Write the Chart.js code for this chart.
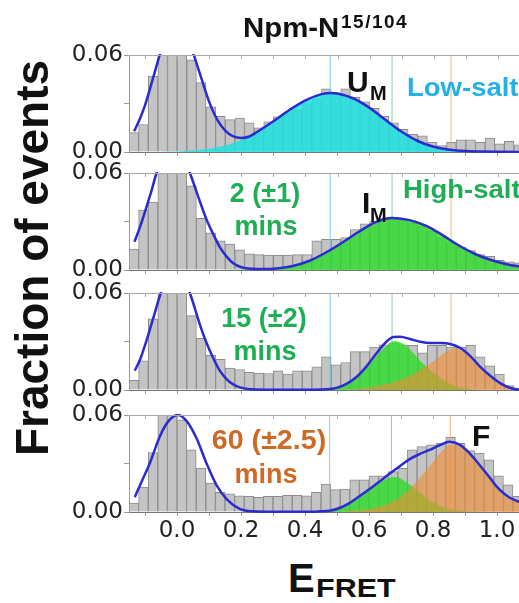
<!DOCTYPE html>
<html>
<head>
<meta charset="utf-8">
<script src="https://cdn.jsdelivr.net/npm/chart.js@4.4.1/dist/chart.umd.min.js"></script>
<style>
  html, body { margin: 0; padding: 0; background: #fff; }
  body { width: 519px; height: 603px; overflow: hidden; position: relative; }
  canvas { position: absolute; left: 0; }
  .t { position: absolute; font-family: "Liberation Sans", Arial, sans-serif; font-weight: bold;
       line-height: 1; white-space: nowrap; color: #111; transform-origin: 0 0; }
  .c { text-align: center; width: 140px; transform-origin: 50% 0; }
  .grn { color: #1fae55; }
  .org { color: #cf6a26; }
</style>
</head>
<body>
<canvas id="p1" width="530" height="131" style="top:39px"></canvas>
<canvas id="p2" width="530" height="131" style="top:157px"></canvas>
<canvas id="p3" width="530" height="131" style="top:277px"></canvas>
<canvas id="p4" width="530" height="155" style="top:399px"></canvas>

<!-- titres et annotations -->
<div class="t" style="left:243px;top:14px;font-size:28px;transform:scaleX(1.05)">Npm-N</div>
<div class="t" style="left:341px;top:12px;font-size:19px;letter-spacing:1.5px">15/104</div>

<div class="t" style="left:347px;top:67px;font-size:30px">U</div>
<div class="t" style="left:370px;top:83px;font-size:20px">M</div>
<div class="t" style="left:407px;top:75px;font-size:25px;color:#22b0e6;transform:scaleX(1.1)">Low-salt</div>

<div class="t c grn" style="left:195px;top:180px;font-size:27px">2 (±1)</div>
<div class="t c grn" style="left:196px;top:213px;font-size:27px">mins</div>
<div class="t" style="left:362px;top:188px;font-size:30px">I</div>
<div class="t" style="left:370px;top:205px;font-size:20px">M</div>
<div class="t grn" style="left:403px;top:177px;font-size:25px;transform:scaleX(1.1)">High-salt</div>

<div class="t c grn" style="left:194px;top:305px;font-size:27px">15 (±2)</div>
<div class="t c grn" style="left:195px;top:338px;font-size:27px">mins</div>

<div class="t c org" style="left:199px;top:427px;font-size:27px;transform:scaleX(1.06)">60 (±2.5)</div>
<div class="t c org" style="left:196px;top:461px;font-size:27px">mins</div>
<div class="t" style="left:472px;top:421px;font-size:30px">F</div>

<div class="t" style="left:288px;top:558px;font-size:40px">E</div>
<div class="t" style="left:316px;top:576px;font-size:25px;transform:scaleX(1.22)">FRET</div>

<div class="t" style="left:-168px;top:235px;width:400px;height:46px;font-size:46px;text-align:center;transform-origin:50% 50%;transform:rotate(-90deg)">Fraction of events</div>

<script>
// centres des classes de l'histogramme (E_FRET)
const binCenters = [-0.135, -0.105, -0.075, -0.045, -0.015, 0.015, 0.045, 0.075, 0.105, 0.135,
  0.165, 0.195, 0.225, 0.255, 0.285, 0.315, 0.345, 0.375, 0.405, 0.435,
  0.465, 0.495, 0.525, 0.555, 0.585, 0.615, 0.645, 0.675, 0.705, 0.735,
  0.765, 0.795, 0.825, 0.855, 0.885, 0.915, 0.945, 0.975, 1.005, 1.035,
  1.065, 1.095];

// fractions d'evenements par panneau
const lowSaltBars = [0.012, 0.017, 0.047, 0.072, 0.078, 0.070, 0.057, 0.043, 0.028, 0.022,
  0.020, 0.021, 0.018, 0.015, 0.0186, 0.0217, 0.024, 0.026, 0.030, 0.033,
  0.039, 0.036, 0.039, 0.034, 0.031, 0.027, 0.022, 0.018, 0.014, 0.011,
  0.010, 0.006, 0.004, 0.006, 0.0076, 0.0076, 0.006, 0.0086, 0.005, 0.0066,
  0.0045, 0.004];
const min2Bars = [0.013, 0.037, 0.042, 0.070, 0.078, 0.072, 0.052, 0.032, 0.023, 0.018,
  0.016, 0.0125, 0.010, 0.0095, 0.0092, 0.009, 0.0092, 0.0095, 0.0095, 0.018,
  0.019, 0.019, 0.020, 0.025, 0.0285, 0.030, 0.031, 0.0318, 0.031, 0.029,
  0.027, 0.024, 0.020, 0.017, 0.014, 0.012, 0.0095, 0.0085, 0.006, 0.005,
  0.0045, 0.004];
const min15Bars = [0.006, 0.018, 0.044, 0.070, 0.075, 0.066, 0.046, 0.032, 0.0215, 0.019,
  0.0135, 0.0127, 0.011, 0.0104, 0.0102, 0.0119, 0.0098, 0.0119, 0.0119, 0.0143,
  0.0205, 0.0156, 0.017, 0.0237, 0.0237, 0.0266, 0.028, 0.029, 0.028, 0.0276,
  0.023, 0.0276, 0.0276, 0.0266, 0.0266, 0.0278, 0.0205, 0.015, 0.0098, 0.0027,
  0.0012, 0.001];
const min60Bars = [0.0055, 0.0154, 0.0368, 0.062, 0.063, 0.057, 0.0384, 0.0271, 0.0179, 0.0121,
  0.0113, 0.010, 0.0097, 0.009, 0.0097, 0.0097, 0.0103, 0.0103, 0.010, 0.0121,
  0.0173, 0.0138, 0.0142, 0.0199, 0.0199, 0.0224, 0.0224, 0.025, 0.027, 0.0384,
  0.0405, 0.0415, 0.0425, 0.0462, 0.0425, 0.038, 0.0364, 0.0322, 0.0224, 0.0168,
  0.0097, 0.007];

// courbes d'ajustement [E, fraction]
const lowSaltFit = [[-0.134, 0.0128], [-0.115, 0.021], [-0.1, 0.029], [-0.075, 0.0457], [-0.05, 0.0628],
  [-0.025, 0.0757], [0.0, 0.080], [0.025, 0.0745], [0.05, 0.0612], [0.075, 0.046], [0.1, 0.031],
  [0.125, 0.020], [0.15, 0.0132], [0.175, 0.0096], [0.2, 0.0087], [0.225, 0.0096], [0.25, 0.0125],
  [0.3, 0.019], [0.35, 0.026], [0.4, 0.032], [0.45, 0.0358], [0.48, 0.0365], [0.5, 0.0362],
  [0.55, 0.0331], [0.6, 0.0273], [0.65, 0.0198], [0.7, 0.0125], [0.75, 0.0068], [0.8, 0.0032],
  [0.85, 0.0014], [0.9, 0.0006], [0.95, 0.0003], [1.0, 0.0001], [1.1, 0.0]];
const lowSaltUM = [[-0.05, 0.0001], [0.0, 0.0003], [0.05, 0.0009], [0.1, 0.002], [0.15, 0.004],
  [0.2, 0.0074], [0.25, 0.0125], [0.3, 0.019], [0.35, 0.026], [0.4, 0.032], [0.45, 0.0358],
  [0.48, 0.0365], [0.5, 0.0362], [0.55, 0.0331], [0.6, 0.0273], [0.65, 0.0198], [0.7, 0.0125],
  [0.75, 0.0068], [0.8, 0.0032], [0.85, 0.0014], [0.9, 0.0006], [0.95, 0.0003], [1.0, 0.0001], [1.1, 0.0]];

const min2Fit = [[-0.133, 0.0175], [-0.115, 0.027], [-0.096, 0.0386], [-0.08, 0.049], [-0.064, 0.060],
  [-0.04, 0.071], [-0.012, 0.079], [0.015, 0.073], [0.04, 0.060], [0.07, 0.043], [0.09, 0.032],
  [0.112, 0.0224], [0.135, 0.0135], [0.155, 0.0081], [0.175, 0.0042], [0.2, 0.0017], [0.25, 0.0006],
  [0.3, 0.0008], [0.357, 0.0023], [0.409, 0.0054], [0.461, 0.0105], [0.513, 0.0167], [0.565, 0.0235],
  [0.617, 0.0295], [0.669, 0.0322], [0.721, 0.031], [0.773, 0.0276], [0.825, 0.0219], [0.877, 0.0153],
  [0.929, 0.0099], [0.981, 0.006], [1.034, 0.0033], [1.1, 0.0015]];
const min2IM = [[0.15, 0.0001], [0.2, 0.0003], [0.25, 0.0006], [0.3, 0.0008], [0.357, 0.0023],
  [0.409, 0.0054], [0.461, 0.0105], [0.513, 0.0167], [0.565, 0.0235], [0.617, 0.0295], [0.669, 0.0322],
  [0.721, 0.031], [0.773, 0.0276], [0.825, 0.0219], [0.877, 0.0153], [0.929, 0.0099], [0.981, 0.006],
  [1.034, 0.0033], [1.1, 0.0015]];

const min15Fit = [[-0.132, 0.012], [-0.115, 0.019], [-0.096, 0.0303], [-0.075, 0.044], [-0.051, 0.060],
  [-0.025, 0.073], [-0.005, 0.0766], [0.015, 0.073], [0.04, 0.060], [0.071, 0.0405], [0.09, 0.030],
  [0.112, 0.020], [0.133, 0.012], [0.154, 0.0068], [0.175, 0.0035], [0.196, 0.0016], [0.23, 0.0004],
  [0.3, 0.0001], [0.4, 0.0001], [0.466, 0.0004], [0.497, 0.0013], [0.528, 0.0038], [0.56, 0.0082],
  [0.591, 0.0148], [0.622, 0.0228], [0.653, 0.030], [0.674, 0.0328], [0.695, 0.033], [0.726, 0.0315],
  [0.758, 0.0298], [0.789, 0.029], [0.82, 0.029], [0.851, 0.0285], [0.883, 0.026], [0.914, 0.021],
  [0.945, 0.0143], [0.976, 0.0088], [1.008, 0.0041], [1.039, 0.0012], [1.067, 0.0002], [1.1, 0.0]];
const min15IM = [[0.44, 0.0], [0.497, 0.001], [0.528, 0.0035], [0.56, 0.0075], [0.591, 0.0138],
  [0.622, 0.021], [0.653, 0.0275], [0.679, 0.0303], [0.70, 0.029], [0.726, 0.025], [0.758, 0.018],
  [0.789, 0.0125], [0.82, 0.0075], [0.851, 0.0038], [0.883, 0.0015], [0.914, 0.0005], [0.95, 0.0]];
const min15F = [[0.5, 0.0], [0.55, 0.0004], [0.6, 0.0015], [0.65, 0.0035], [0.7, 0.0065], [0.75, 0.0115],
  [0.8, 0.018], [0.83, 0.0225], [0.86, 0.0255], [0.885, 0.025], [0.914, 0.0205], [0.945, 0.0143],
  [0.976, 0.0088], [1.008, 0.0041], [1.039, 0.0012], [1.08, 0.0002]];

const min60Fit = [[-0.132, 0.0092], [-0.11, 0.019], [-0.085, 0.0302], [-0.054, 0.0466], [-0.028, 0.0559],
  [0.003, 0.060], [0.029, 0.0565], [0.061, 0.0456], [0.092, 0.0302], [0.123, 0.0168], [0.155, 0.008],
  [0.196, 0.002], [0.237, 0.0004], [0.3, 0.0001], [0.4, 0.0001], [0.445, 0.0004], [0.477, 0.0008],
  [0.508, 0.0025], [0.539, 0.0055], [0.570, 0.0097], [0.602, 0.0142], [0.633, 0.0189], [0.664, 0.0236],
  [0.695, 0.0281], [0.727, 0.0327], [0.758, 0.0358], [0.789, 0.0384], [0.82, 0.0412], [0.851, 0.0434],
  [0.883, 0.0417], [0.914, 0.0364], [0.945, 0.0292], [0.976, 0.0216], [1.008, 0.0138], [1.039, 0.009],
  [1.067, 0.0065], [1.1, 0.004]];
const min60IM = [[0.42, 0.0], [0.45, 0.0003], [0.5, 0.0018], [0.54, 0.005], [0.57, 0.0088], [0.602, 0.0135],
  [0.633, 0.018], [0.66, 0.0208], [0.68, 0.0216], [0.705, 0.020], [0.737, 0.0155], [0.768, 0.0105],
  [0.8, 0.006], [0.84, 0.0025], [0.883, 0.0008], [0.93, 0.0001], [0.96, 0.0]];
const min60F = [[0.5, 0.0], [0.55, 0.0008], [0.6, 0.0018], [0.65, 0.0045], [0.7, 0.0095], [0.75, 0.019],
  [0.8, 0.031], [0.83, 0.038], [0.855, 0.0418], [0.88, 0.041], [0.914, 0.0362], [0.945, 0.0292],
  [0.976, 0.0216], [1.008, 0.0138], [1.039, 0.0085], [1.067, 0.006], [1.1, 0.0035]];

// positions des etats U_M, I_M, F
const stateLines = [0.477, 0.67, 0.854];
const xTickLabels = ['0.0', '0.2', '0.4', '0.6', '0.8', '1.0'];
const yTickLabels = ['0.00', '0.06'];

const cyanFill = 'rgba(30, 226, 226, 0.85)';
const greenFill = 'rgba(40, 222, 40, 0.78)';
const orangeFill = 'rgba(240, 140, 50, 0.62)';
const stateColors = ['rgba(120, 195, 230, 0.9)', 'rgba(120, 210, 160, 0.9)', 'rgba(240, 170, 120, 0.9)'];

const toPts = arr => arr.map(p => ({ x: p[0], y: p[1] }));

// cadre du haut + petits traits
const framePlugin = {
    id: 'frame',
    afterDraw(chart) {
        const { ctx, chartArea: a } = chart;
        const x = chart.scales.x;
        ctx.save();
        ctx.strokeStyle = '#a8a8a8';
        ctx.lineWidth = 1;
        ctx.beginPath();
        ctx.moveTo(a.left, Math.round(a.top) + 0.5);
        ctx.lineTo(a.right, Math.round(a.top) + 0.5);
        x.ticks.forEach(t => {
            const px = Math.round(x.getPixelForValue(t.value)) + 0.5;
            ctx.moveTo(px, a.top);
            ctx.lineTo(px, a.top + 4);
        });
        ctx.stroke();
        ctx.restore();
    }
};

function makePanel(id, bars, fit, fills, last) {
    const datasets = [{
        type: 'line', data: toPts(fit), borderColor: '#2b2bd0', borderWidth: 2.5,
        pointRadius: 0, cubicInterpolationMode: 'monotone', fill: false, clip: 1, order: 1
    }];
    fills.forEach(f => datasets.push({
        type: 'line', data: toPts(f.pts), backgroundColor: f.color, borderWidth: 0,
        pointRadius: 0, cubicInterpolationMode: 'monotone', fill: 'origin', clip: 0, order: f.order
    }));
    stateLines.forEach((e, k) => datasets.push({
        type: 'line', data: [{ x: e, y: 0 }, { x: e, y: 0.06 }], borderColor: stateColors[k],
        borderWidth: 1, pointRadius: 0, fill: false, clip: 0, order: 9
    }));
    datasets.push({
        type: 'bar', data: binCenters.map((c, i) => ({ x: c, y: bars[i] })),
        backgroundColor: '#c4c4c4', borderColor: '#8c8c8c', borderWidth: 1,
        barPercentage: 1, categoryPercentage: 1, clip: 0, order: 10
    });

    new Chart(document.getElementById(id), {
        type: 'bar',
        data: { datasets: datasets },
        options: {
            responsive: false,
            animation: false,
            events: [],
            layout: { padding: { top: 16, left: 0, right: 0, bottom: last ? 2 : 14 } },
            plugins: { legend: { display: false }, tooltip: { enabled: false } },
            scales: {
                x: {
                    type: 'linear', min: -0.15, max: 1.1, offset: false,
                    grid: { offset: false, drawOnChartArea: false, tickLength: 4, color: '#999' },
                    border: { color: '#777' },
                    ticks: {
                        display: last, stepSize: 0.1, includeBounds: false, autoSkip: false,
                        maxRotation: 0, padding: 1, color: '#222',
                        font: { family: 'DejaVu Sans', size: 23 },
                        callback: v => {
                            const s = v.toFixed(1);
                            return xTickLabels.includes(s) ? s : '';
                        }
                    },
                    afterFit: s => { s.height = last ? 40 : 4; }
                },
                y: {
                    min: 0, max: 0.06,
                    grid: { drawOnChartArea: false, tickLength: 5, color: '#999' },
                    border: { color: '#9a9a9a' },
                    ticks: {
                        stepSize: 0.03, padding: 1, color: '#222',
                        font: { family: 'DejaVu Sans', size: 23 },
                        callback: v => {
                            const s = v.toFixed(2);
                            return yTickLabels.includes(s) ? s : '';
                        }
                    },
                    afterFit: s => { s.width = 129; }
                }
            }
        },
        plugins: [framePlugin]
    });
}

makePanel('p1', lowSaltBars, lowSaltFit, [{ pts: lowSaltUM, color: cyanFill, order: 6 }], false);
makePanel('p2', min2Bars, min2Fit, [{ pts: min2IM, color: greenFill, order: 6 }], false);
makePanel('p3', min15Bars, min15Fit, [
    { pts: min15IM, color: greenFill, order: 6 },
    { pts: min15F, color: orangeFill, order: 5 }
], false);
makePanel('p4', min60Bars, min60Fit, [
    { pts: min60IM, color: greenFill, order: 6 },
    { pts: min60F, color: orangeFill, order: 5 }
], true);
</script>
</body>
</html>
